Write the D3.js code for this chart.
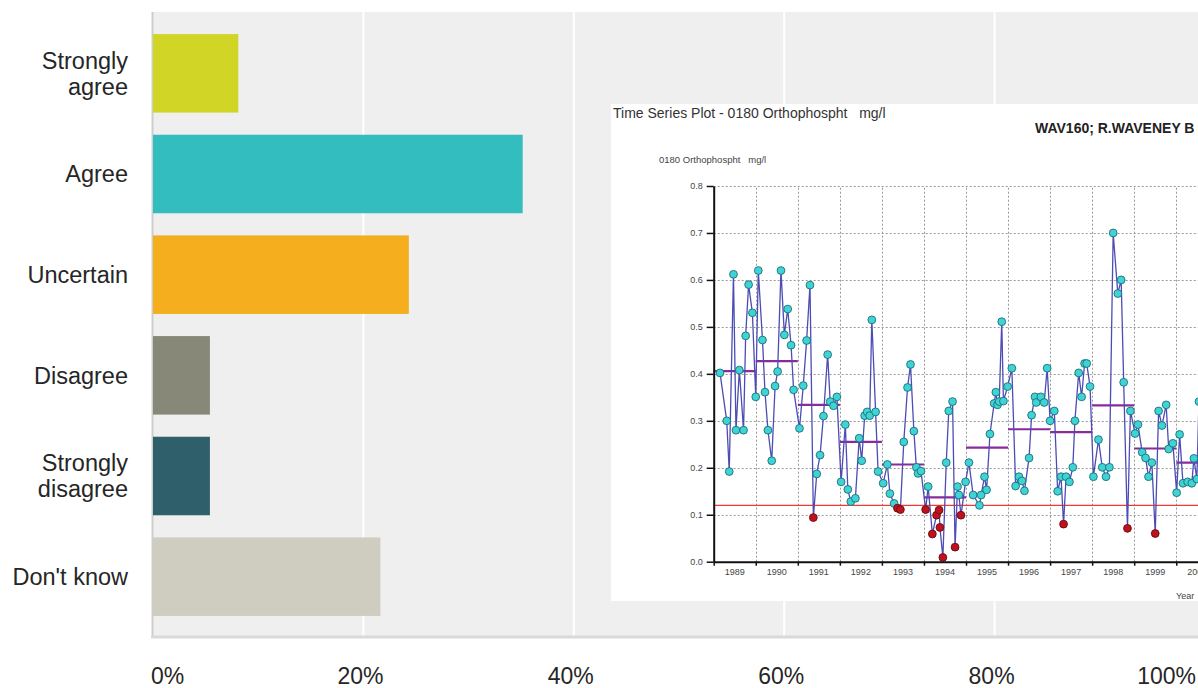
<!DOCTYPE html>
<html><head><meta charset="utf-8">
<script src="https://cdn.jsdelivr.net/npm/d3@7"></script>
<style>html,body{margin:0;padding:0;background:#fff;overflow:hidden}text{font-family:"Liberation Sans",Arial,sans-serif}</style>
</head><body><svg id="c" width="1198" height="688"></svg>
<script>
// ---- Main bar chart data ----
const categories = ["Strongly agree","Agree","Uncertain","Disagree","Strongly disagree","Don't know"];
const categoryLines = [["Strongly","agree"],["Agree"],["Uncertain"],["Disagree"],["Strongly","disagree"],["Don't know"]];
const percents = [8.11, 35.14, 24.32, 5.41, 5.41, 21.62];
const barColors = ["#d1d526","#33bdbe","#f5ae1e","#878877","#2e5f6b","#cfcdbf"];
const xTicks = [0, 20, 40, 60, 80, 100];

// ---- Inset time-series data (0180 Orthophospht mg/l) ----
const tsYear = [1989.15,1989.31,1989.37,1989.47,1989.53,1989.61,1989.71,1989.76,1989.83,1989.92,
1990.00,1990.06,1990.16,1990.22,1990.29,1990.38,1990.46,1990.52,1990.60,1990.68,1990.76,1990.84,1990.90,
1991.04,1991.13,1991.21,1991.29,1991.37,1991.45,1991.53,1991.61,1991.71,1991.77,1991.85,1991.93,
1992.03,1992.13,1992.19,1992.26,1992.37,1992.46,1992.52,1992.59,1992.65,1992.71,1992.76,1992.85,1992.91,
1993.03,1993.13,1993.19,1993.29,1993.37,1993.44,1993.52,1993.61,1993.68,1993.76,1993.82,1993.86,1993.93,
1994.04,1994.10,1994.20,1994.30,1994.36,1994.38,1994.45,1994.53,1994.59,1994.68,1994.74,1994.80,1994.83,1994.88,1994.99,
1995.07,1995.17,1995.32,1995.36,1995.44,1995.49,1995.57,1995.67,1995.71,1995.75,1995.79,1995.85,1995.89,1995.99,
1996.09,1996.18,1996.26,1996.33,1996.39,1996.50,1996.56,1996.64,1996.67,1996.78,1996.86,1996.93,
1997.00,1997.10,1997.18,1997.26,1997.32,1997.38,1997.46,1997.54,1997.59,1997.68,1997.75,1997.82,1997.87,1997.95,
1998.03,1998.15,1998.24,1998.33,1998.41,1998.50,1998.61,1998.69,1998.75,1998.84,1998.91,
1999.02,1999.09,1999.19,1999.27,1999.34,1999.42,1999.50,1999.58,1999.66,1999.76,1999.82,1999.92,
2000.01,2000.08,2000.16,2000.27,2000.37,2000.42,2000.49,2000.54];
const tsValue = [0.402,0.300,0.192,0.612,0.280,0.408,0.280,0.481,0.590,0.530,
0.351,0.620,0.472,0.361,0.280,0.215,0.374,0.405,0.620,0.483,0.538,0.461,0.366,
0.284,0.375,0.471,0.589,0.094,0.187,0.227,0.310,0.441,0.341,0.332,0.351,
0.170,0.292,0.154,0.128,0.135,0.263,0.215,0.311,0.319,0.311,0.515,0.319,0.192,
0.167,0.207,0.145,0.124,0.114,0.111,0.255,0.371,0.420,0.278,0.201,0.188,0.193,
0.111,0.160,0.059,0.099,0.110,0.073,0.009,0.211,0.321,0.341,0.031,0.160,0.142,0.099,0.170,
0.211,0.142,0.120,0.142,0.181,0.153,0.272,0.337,0.361,0.334,0.341,0.511,0.342,0.373,
0.412,0.161,0.181,0.172,0.151,0.221,0.312,0.351,0.339,0.351,0.339,0.412,
0.300,0.321,0.150,0.181,0.080,0.181,0.170,0.201,0.300,0.402,0.351,0.422,0.422,0.373,
0.181,0.260,0.201,0.181,0.201,0.700,0.571,0.600,0.382,0.071,0.321,
0.273,0.292,0.233,0.221,0.181,0.211,0.060,0.321,0.290,0.334,0.240,0.252,
0.147,0.271,0.167,0.170,0.167,0.220,0.176,0.341];
const meanYears = [1989,1990,1991,1992,1993,1994,1995,1996,1997,1998,1999,2000];
const yearMeans = [0.406,0.427,0.334,0.255,0.207,0.137,0.243,0.282,0.276,0.333,0.241,0.211];
const limitValue = 0.12;
const insetYTicks = [0,0.1,0.2,0.3,0.4,0.5,0.6,0.7,0.8];
const insetYearBounds = [1989,1990,1991,1992,1993,1994,1995,1996,1997,1998,1999,2000,2001];

const svg = d3.select("#c");

// ---- Main chart ----
const x = d3.scaleLinear().domain([0,100]).range([153,1205]);
const y = d3.scaleBand().domain(categories).range([23,627]).paddingInner(0.22).paddingOuter(0.11);
const plotTop = 12, plotBottom = 637;

svg.append("rect").attr("x",x(0)).attr("y",plotTop).attr("width",1198-x(0)).attr("height",plotBottom-plotTop).attr("fill","#efefef");
svg.append("g").selectAll("line").data(xTicks.slice(1)).join("line")
  .attr("x1",d=>x(d)).attr("x2",d=>x(d)).attr("y1",plotTop).attr("y2",plotBottom)
  .attr("stroke","#fff").attr("stroke-width",2);
svg.append("line").attr("x1",x(0)-0.5).attr("x2",x(0)-0.5).attr("y1",plotTop).attr("y2",plotBottom).attr("stroke","#cdcdcd").attr("stroke-width",2);
svg.append("line").attr("x1",x(0)-2).attr("x2",1198).attr("y1",plotBottom).attr("y2",plotBottom).attr("stroke","#d9d9d9").attr("stroke-width",3);

svg.append("g").selectAll("rect").data(categories).join("rect")
  .attr("x",x(0)).attr("y",d=>y(d)).attr("width",(d,i)=>x(percents[i])-x(0)).attr("height",y.bandwidth())
  .attr("fill",(d,i)=>barColors[i]);

const catG = svg.append("g").selectAll("text").data(categories).join("text")
  .attr("text-anchor","end").attr("fill","#262626").attr("font-size",23.5)
  .attr("transform",d=>`translate(128,${y(d)+y.bandwidth()/2})`);
catG.each(function(d,i){
  const lines = categoryLines[i];
  const n = lines.length, lh = 26;
  d3.select(this).selectAll("tspan").data(lines).join("tspan")
    .attr("x",0).attr("y",(l,j)=>(j-(n-1)/2)*lh).attr("dy","0.35em").text(l=>l);
});

svg.append("g").selectAll("text").data(xTicks).join("text")
  .attr("x",d=> d===0 ? x(d)-2 : d===100 ? 1196 : x(d)-3)
  .attr("text-anchor",d=> d===0 ? "start" : d===100 ? "end" : "middle")
  .attr("y",684).attr("font-size",23).attr("fill","#262626").text(d=>d+"%");

// ---- Inset time series ----
const inset = {x:611, y:104, w:600, h:497};
svg.append("clipPath").attr("id","ic").append("rect").attr("x",inset.x).attr("y",inset.y).attr("width",inset.w).attr("height",inset.h);
const g = svg.append("g").attr("clip-path","url(#ic)");
g.append("rect").attr("x",inset.x).attr("y",inset.y).attr("width",inset.w).attr("height",inset.h).attr("fill","#fff");

const ix = d3.scaleLinear().domain([1989,2001]).range([713.7, 713.7+12*42.05]);
const iy = d3.scaleLinear().domain([0,0.8]).range([561.7,186]);
const rightEdge = 1200;
const snap = v => Math.round(v) + 0.5;

// dotted grid
g.append("g").selectAll("line").data(insetYTicks.slice(1)).join("line")
  .attr("x1",ix(1989)).attr("x2",rightEdge).attr("y1",d=>snap(iy(d))).attr("y2",d=>snap(iy(d)))
  .attr("stroke","#999").attr("stroke-width",1).attr("stroke-dasharray","2,2");
g.append("g").selectAll("line").data(insetYearBounds.slice(1)).join("line")
  .attr("x1",d=>snap(ix(d))).attr("x2",d=>snap(ix(d))).attr("y1",iy(0)).attr("y2",iy(0.8))
  .attr("stroke","#999").attr("stroke-width",1).attr("stroke-dasharray","2,2");

// limit line
g.append("line").attr("x1",ix(1989)).attr("x2",rightEdge).attr("y1",iy(limitValue)).attr("y2",iy(limitValue))
  .attr("stroke","#f03a3a").attr("stroke-width",1.4);

// annual means
g.append("g").selectAll("line").data(meanYears).join("line")
  .attr("x1",d=>ix(d)).attr("x2",d=>ix(d+1)).attr("y1",(d,i)=>iy(yearMeans[i])).attr("y2",(d,i)=>iy(yearMeans[i]))
  .attr("stroke","#8a2a9c").attr("stroke-width",2.2);

// series line
const pts = tsYear.map((t,i)=>[t,tsValue[i]]);
g.append("path").datum(pts).attr("fill","none").attr("stroke","#4c4cb4").attr("stroke-width",1.3)
  .attr("d",d3.line().x(d=>ix(d[0])).y(d=>iy(d[1])));
g.append("g").selectAll("circle").data(pts).join("circle")
  .attr("cx",d=>ix(d[0])).attr("cy",d=>iy(d[1])).attr("r",3.9)
  .attr("fill",d=>d[1]<limitValue-0.001?"#c0121c":"#3fd3d3")
  .attr("stroke",d=>d[1]<limitValue-0.001?"#6a0a10":"#1b6f7c").attr("stroke-width",0.9);

// axes
const yAx = g.append("g").attr("transform",`translate(${ix(1989)},0)`)
  .call(d3.axisLeft(iy).tickValues(insetYTicks).tickFormat(d3.format(".1f")).tickSize(7).tickSizeOuter(0).tickPadding(4));
yAx.select(".domain").attr("stroke","#111").attr("stroke-width",2);
yAx.selectAll(".tick line").attr("stroke","#111").attr("stroke-width",1.5);
yAx.selectAll(".tick text").attr("font-size",9).attr("fill","#444").attr("font-family","Liberation Sans, Arial, sans-serif");

const xAx = g.append("g").attr("transform",`translate(0,${iy(0)})`)
  .call(d3.axisBottom(ix).tickValues(insetYearBounds).tickFormat("").tickSize(4).tickSizeOuter(0));
xAx.select(".domain").attr("stroke","#111").attr("stroke-width",2);
xAx.selectAll(".tick line").attr("stroke","#111").attr("stroke-width",1.5);
g.append("g").selectAll("text").data(insetYearBounds.slice(0,-1)).join("text")
  .attr("x",d=>ix(d+0.5)).attr("y",iy(0)+13).attr("text-anchor","middle")
  .attr("font-size",9).attr("fill","#444").text(d=>d);

g.append("text").attr("x",1176).attr("y",599).attr("font-size",9).attr("fill","#444").text("Year");
g.append("text").attr("x",613).attr("y",118).attr("font-size",14).attr("fill","#333")
  .style("white-space","pre").text("Time Series Plot - 0180 Orthophospht   mg/l");
g.append("text").attr("x",1035).attr("y",133).attr("font-size",14).attr("font-weight","bold").attr("fill","#222")
  .style("white-space","pre").text("WAV160; R.WAVENEY B");
g.append("text").attr("x",659).attr("y",163).attr("font-size",9.5).attr("fill","#444")
  .style("white-space","pre").text("0180 Orthophospht   mg/l");
</script></body></html>
